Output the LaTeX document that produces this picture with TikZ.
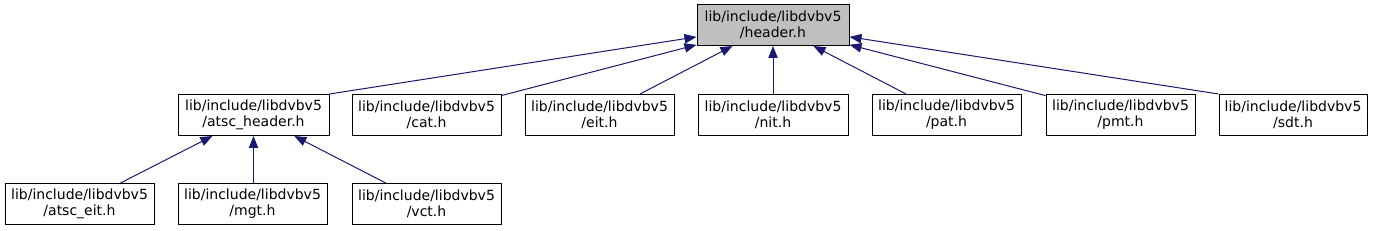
\documentclass[tikz,border=0pt]{standalone}
\usepackage{fontspec}
\setmainfont{DejaVu Sans}
\usetikzlibrary{arrows.meta}
\definecolor{edgecol}{HTML}{191970}
\definecolor{hdrfill}{HTML}{BFBFBF}
\tikzset{
  box/.style={draw=black, line width=0.75pt, fill=white, inner sep=0pt,
    minimum height=30.75pt, align=center,
    font=\fontsize{10.5}{11.8}\selectfont},
  hbox/.style={box, fill=hdrfill},
  edge/.style={draw=edgecol, line width=0.75pt,
    {Triangle[length=9pt,width=7pt]}-},
}
\begin{document}
\begin{tikzpicture}[x=0.75pt,y=-0.75pt]
\useasboundingbox[fill=white] (0,0) rectangle (1373,231);
\node[hbox, minimum width=114pt] (hdr) at (773,25) {lib/include/libdvbv5\\/header.h};
\node[box, minimum width=113.25pt] (ah) at (253.5,115) {lib/include/libdvbv5\\/atsc\_header.h};
\node[box, minimum width=111.75pt] (cat) at (426.5,115) {lib/include/libdvbv5\\/cat.h};
\node[box, minimum width=111.75pt] (eit) at (599.5,115) {lib/include/libdvbv5\\/eit.h};
\node[box, minimum width=112.5pt] (nit) at (773,115) {lib/include/libdvbv5\\/nit.h};
\node[box, minimum width=111.75pt] (pat) at (946.5,115) {lib/include/libdvbv5\\/pat.h};
\node[box, minimum width=111.75pt] (pmt) at (1120.5,115) {lib/include/libdvbv5\\/pmt.h};
\node[box, minimum width=111pt] (sdt) at (1293,115) {lib/include/libdvbv5\\/sdt.h};
\node[box, minimum width=111.75pt] (ae) at (79.5,204) {lib/include/libdvbv5\\/atsc\_eit.h};
\node[box, minimum width=111.75pt] (mgt) at (252.5,204) {lib/include/libdvbv5\\/mgt.h};
\node[box, minimum width=111.75pt] (vct) at (426.5,204) {lib/include/libdvbv5\\/vct.h};
\draw[edge] (hdr) -- (ah.north east);
\draw[edge] (hdr) -- (cat);
\draw[edge] (hdr) -- (eit);
\draw[edge] (hdr) -- (nit);
\draw[edge] (hdr) -- (pat);
\draw[edge] (hdr) -- (pmt);
\draw[edge] (hdr) -- (sdt.north west);
\draw[edge] (ah) -- (ae);
\draw[edge] (ah.south) -- (mgt.north -| ah.south);
\draw[edge] (ah) -- (vct);
\end{tikzpicture}
\end{document}
